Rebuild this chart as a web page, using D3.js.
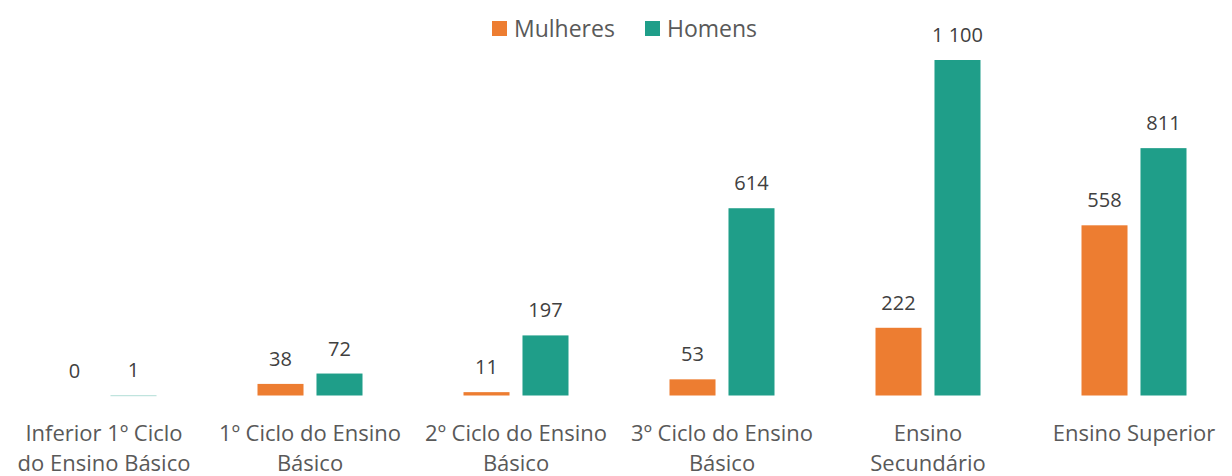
<!DOCTYPE html>
<html lang="pt">
<head>
    <meta charset="UTF-8">
    <title>Mulheres e Homens por nível de ensino</title>
    <script src="https://d3js.org/d3.v7.min.js"></script>
    <style>
        body { margin: 0; background: #fff; }
        text { font-family: "Open Sans", sans-serif; }
    </style>
</head>
<body>
    <svg width="1232" height="476"></svg>

    <script>
        // categories (lines split on "|")
        const categories = [
            "Inferior 1º Ciclo|do Ensino Básico",
            "1º Ciclo do Ensino|Básico",
            "2º Ciclo do Ensino|Básico",
            "3º Ciclo do Ensino|Básico",
            "Ensino|Secundário",
            "Ensino Superior"
        ];
        const seriesNames = ["Mulheres", "Homens"];
        const mulheres = [0, 38, 11, 53, 222, 558];
        const homens = [1, 72, 197, 614, 1100, 811];
        const colors = ["#ED7D31", "#1F9E89"];

        const baseline = 395.5;

        const svg = d3.select("svg");

        const x = d3.scaleBand()
            .domain(categories)
            .range([1, 1237]);

        const x1 = d3.scaleBand()
            .domain(seriesNames)
            .range([x.bandwidth() / 2 - 52.5, x.bandwidth() / 2 + 52.5])
            .paddingInner(0.22);

        const y = d3.scaleLinear()
            .domain([0, 1100])
            .range([baseline, 60]);

        const fmt = v => d3.format(",")(v).replace(/,/g, " ");

        const rows = categories.map((c, i) => ({ cat: c, vals: [mulheres[i], homens[i]] }));

        const groups = svg.append("g").selectAll("g")
            .data(rows)
            .join("g")
            .attr("transform", d => `translate(${x(d.cat)},0)`);

        const cells = groups.selectAll("g")
            .data(d => d.vals.map((v, j) => ({ name: seriesNames[j], v, j })))
            .join("g");

        cells.append("rect")
            .attr("x", d => x1(d.name))
            .attr("width", x1.bandwidth())
            .attr("y", d => y(d.v))
            .attr("height", d => Math.max(baseline - y(d.v), d.v > 0 ? 1 : 0))
            .attr("fill", d => colors[d.j]);

        // tiny value 1 shows as a faint line
        cells.filter(d => d.v > 0 && d.v < 5).select("rect")
            .attr("fill-opacity", 0.35);

        cells.append("text")
            .attr("x", d => x1(d.name) + x1.bandwidth() / 2)
            .attr("y", d => y(d.v) - 18)
            .attr("text-anchor", "middle")
            .attr("font-size", 20)
            .attr("fill", "#404040")
            .text(d => fmt(d.v));

        // category axis
        const axis = svg.append("g")
            .attr("transform", `translate(0,${baseline})`)
            .call(d3.axisBottom(x).tickSize(0).tickFormat(""));
        axis.select(".domain").remove();

        axis.selectAll(".tick").each(function(d) {
            const t = d3.select(this).append("text")
                .attr("text-anchor", "middle")
                .attr("fill", "#595959")
                .attr("font-size", 22);
            d.split("|").forEach((line, k) => {
                t.append("tspan")
                    .attr("x", 0)
                    .attr("y", 45 + k * 30)
                    .text(line);
            });
        });

        // legend
        const legend = svg.append("g");
        const legendItems = [
            { name: "Mulheres", x: 492 },
            { name: "Homens", x: 645 }
        ];
        legendItems.forEach((it, i) => {
            legend.append("rect")
                .attr("x", it.x).attr("y", 21)
                .attr("width", 15).attr("height", 15)
                .attr("fill", colors[i]);
            legend.append("text")
                .attr("x", it.x + 22).attr("y", 37)
                .attr("fill", "#595959")
                .attr("font-size", 23)
                .text(it.name);
        });
    </script>
</body>
</html>
